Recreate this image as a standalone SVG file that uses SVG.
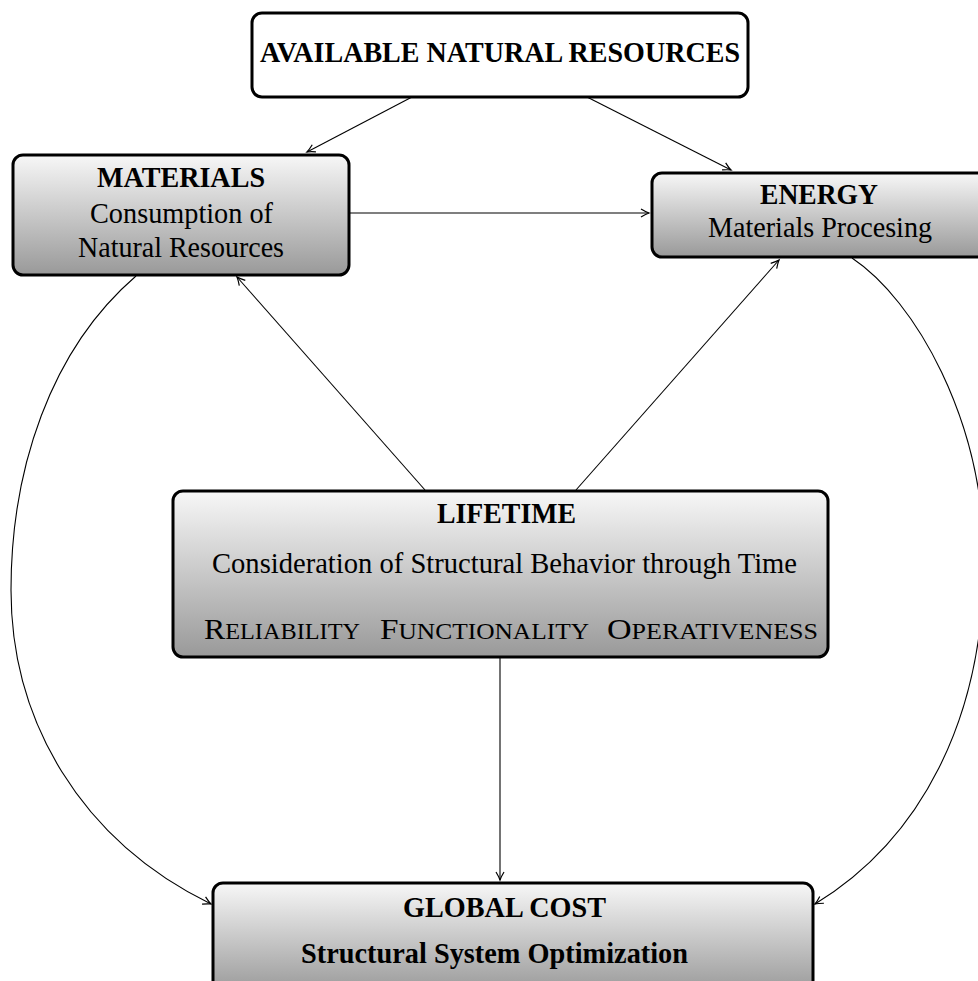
<svg xmlns="http://www.w3.org/2000/svg" width="978" height="981" viewBox="0 0 978 981">
<style>
.box{stroke:#000;stroke-width:3}
.grad{fill:url(#g)}
.t{font-family:"Liberation Serif","Times New Roman",serif;font-size:29.5px;fill:#000;text-anchor:start}
.b{font-weight:bold}
.sc{font-size:22.5px}
.c{fill:none;stroke:#000;stroke-width:1.1;marker-end:url(#ah)}
</style>
<defs>
<linearGradient id="g" x1="0" y1="0" x2="0" y2="1">
<stop offset="0" stop-color="#f7f7f7"/>
<stop offset="1" stop-color="#999"/>
</linearGradient>
<marker id="ah" markerUnits="userSpaceOnUse" markerWidth="20" markerHeight="20" refX="0" refY="0" orient="auto" overflow="visible">
<path d="M-8,-4 Q-3,-1 0,0 Q-3,1 -8,4" fill="none" stroke="#000" stroke-width="1.2"/>
</marker>
</defs>
<rect width="978" height="981" fill="#fff"/>
<g id="connectors">
<path class="c" d="M412,97 L307,152"/>
<path class="c" d="M587,97 L731,170"/>
<path class="c" d="M349,213 L649,213"/>
<path class="c" d="M425,490 L237,277"/>
<path class="c" d="M576,490 L779,260"/>
<path class="c" d="M500,657 L500,880"/>
<path class="c" d="M136,276 C50,350 11,470 11,590 C11,720 80,840 211,904"/>
<path class="c" d="M852,258 C915,300 984,420 984,560 C984,720 920,840 815,904"/>
</g>
<g id="resources">
<rect class="box" x="252" y="13" width="496" height="84" rx="10" fill="#fff"/>
<text class="t b" x="260" y="62" textLength="480" lengthAdjust="spacingAndGlyphs">AVAILABLE NATURAL RESOURCES</text>
</g>
<g id="materials">
<rect class="box grad" x="13" y="155" width="336" height="120" rx="10"/>
<text class="t b" x="97" y="187" textLength="168" lengthAdjust="spacingAndGlyphs">MATERIALS</text>
<text class="t" x="90" y="223" textLength="183" lengthAdjust="spacingAndGlyphs">Consumption of</text>
<text class="t" x="78" y="257" textLength="206" lengthAdjust="spacingAndGlyphs">Natural Resources</text>
</g>
<g id="energy">
<rect class="box grad" x="652" y="173" width="340" height="84" rx="10"/>
<text class="t b" x="760" y="204" textLength="118" lengthAdjust="spacingAndGlyphs">ENERGY</text>
<text class="t" x="708" y="237" textLength="224" lengthAdjust="spacingAndGlyphs">Materials Procesing</text>
</g>
<g id="lifetime">
<rect class="box grad" x="173" y="491" width="655" height="166" rx="10"/>
<text class="t b" x="437" y="523" textLength="139" lengthAdjust="spacingAndGlyphs">LIFETIME</text>
<text class="t" x="212" y="573" textLength="585" lengthAdjust="spacingAndGlyphs">Consideration of Structural Behavior through Time</text>
<text class="t" x="204" y="639" textLength="156" lengthAdjust="spacingAndGlyphs">R<tspan class="sc">ELIABILITY</tspan></text>
<text class="t" x="380" y="639" textLength="209" lengthAdjust="spacingAndGlyphs">F<tspan class="sc">UNCTIONALITY</tspan></text>
<text class="t" x="607" y="639" textLength="211" lengthAdjust="spacingAndGlyphs">O<tspan class="sc">PERATIVENESS</tspan></text>
</g>
<g id="globalcost">
<rect class="box grad" x="213" y="883" width="600" height="110" rx="10"/>
<text class="t b" x="403" y="917" textLength="203" lengthAdjust="spacingAndGlyphs">GLOBAL COST</text>
<text class="t b" x="301" y="963" textLength="387" lengthAdjust="spacingAndGlyphs">Structural System Optimization</text>
</g>
</svg>
